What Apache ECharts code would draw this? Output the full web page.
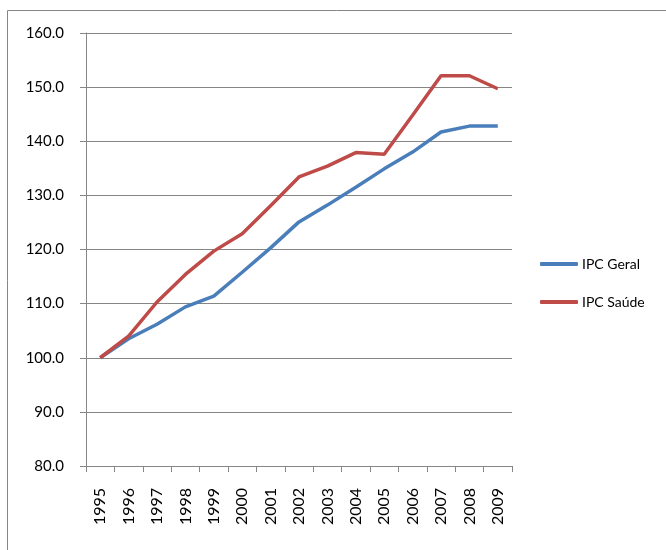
<!DOCTYPE html>
<html>
<head>
<meta charset="utf-8">
<script src="https://cdn.jsdelivr.net/npm/echarts@6/dist/echarts.min.js"></script>
<style>
  html, body { margin: 0; padding: 0; background: #fff; }
  #chart { width: 666px; height: 550px; }
</style>
</head>
<body>
<div id="chart"></div>
<script>
var years = ['1995','1996','1997','1998','1999','2000','2001','2002','2003','2004','2005','2006','2007','2008','2009'];
var ipcGeral = [100.0, 103.5, 106.2, 109.4, 111.4, 115.8, 120.3, 125.1, 128.2, 131.5, 134.9, 138.0, 141.7, 142.8, 142.8];
var ipcSaude = [100.0, 104.0, 110.3, 115.4, 119.7, 122.9, 128.1, 133.4, 135.4, 137.9, 137.6, 144.8, 152.1, 152.1, 149.7];

var myChart = echarts.init(document.getElementById('chart'));
var font = 'Lato';
var option = {
    animation: false,
    // chart frame (only top and left edges are visible)
    graphic: [
        { type: 'line', shape: { x1: 7.5, y1: 10.5, x2: 666, y2: 10.5 }, style: { stroke: '#868686', lineWidth: 1 } },
        { type: 'line', shape: { x1: 7.5, y1: 10.5, x2: 7.5, y2: 550 }, style: { stroke: '#868686', lineWidth: 1 } }
    ],
    grid: { left: 86, right: 154, top: 33, bottom: 84 },
    legend: {
        orient: 'vertical',
        left: 535,
        top: 252,
        itemGap: 24,
        itemWidth: 38,
        itemHeight: 4,
        icon: 'roundRect',
        textStyle: { fontFamily: font, fontSize: 14, color: '#000', padding: [0, 0, 0, -1] },
        data: ['IPC Geral', 'IPC Saúde']
    },
    xAxis: {
        type: 'category',
        data: years,
        boundaryGap: true,
        axisLine: { lineStyle: { color: '#868686', width: 1 } },
        axisTick: { show: true, length: 6, lineStyle: { color: '#868686' } },
        axisLabel: { rotate: 90, margin: 22, fontFamily: font, fontSize: 16, color: '#000' }
    },
    yAxis: {
        type: 'value',
        min: 80,
        max: 160,
        interval: 10,
        axisLine: { show: true, lineStyle: { color: '#868686', width: 1 } },
        axisTick: { show: true, inside: false, length: 6, lineStyle: { color: '#868686' } },
        axisLabel: {
            margin: 22,
            fontFamily: font,
            fontSize: 15,
            color: '#000',
            formatter: function (v) { return v.toFixed(1); }
        },
        splitLine: { lineStyle: { color: '#868686', width: 1 } }
    },
    series: [
        {
            name: 'IPC Geral',
            type: 'line',
            data: ipcGeral,
            symbol: 'none',
            color: '#4a7ebb',
            lineStyle: { width: 3.5, color: '#4a7ebb' }
        },
        {
            name: 'IPC Saúde',
            type: 'line',
            data: ipcSaude,
            symbol: 'none',
            color: '#be4b48',
            lineStyle: { width: 3.5, color: '#be4b48' }
        }
    ]
};
myChart.setOption(option);
</script>
</body>
</html>
